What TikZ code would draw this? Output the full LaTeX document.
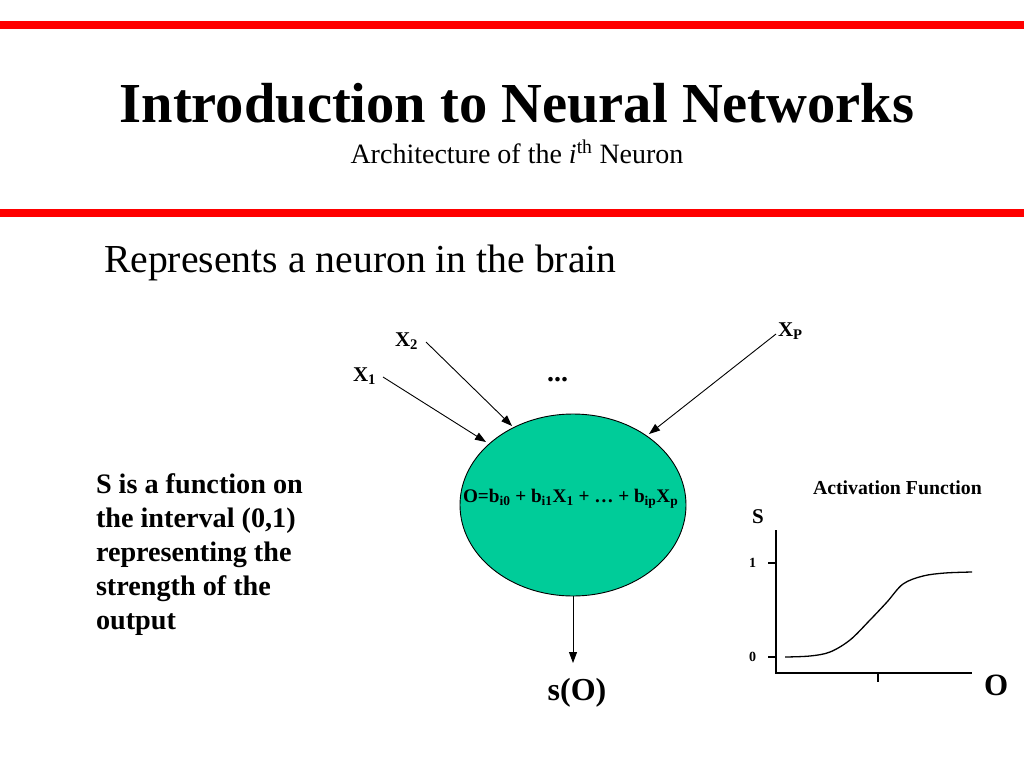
\documentclass[tikz,border=0pt]{standalone}
\usepackage{fontspec}
\setmainfont{Liberation Serif}
\usetikzlibrary{shapes.geometric,arrows.meta}
\definecolor{neurongreen}{RGB}{0,204,153}
\definecolor{barred}{RGB}{255,0,0}
\newcommand{\fs}[1]{\fontsize{#1}{#1}\selectfont}
\tikzset{
  txt/.style={inner sep=0pt, outer sep=0pt, anchor=base west},
  ctxt/.style={inner sep=0pt, outer sep=0pt, anchor=base},
  arr/.style={-{Triangle[length=11pt,width=8pt]}, line width=0.9pt},
  axis/.style={line width=1.3pt},
  bar/.style={fill=barred, draw=none}
}
\begin{document}
\begin{tikzpicture}[x=1pt,y=-1pt]
\fill[white] (0,0) rectangle (1024,768);
\useasboundingbox (0,0) rectangle (1024,768);
% red bars
\fill[bar] (0,21) rectangle (1024,29);
\fill[bar] (0,209) rectangle (1024,217);
% titles
\node[ctxt] (title) at (517,122) {\fs{56.5}\bfseries Introduction to Neural Networks};
\node[ctxt] (subtitle) at (517,163) {\fs{28}Architecture of the \textit{i}\textsuperscript{th} Neuron};
\node[txt] (represents) at (104,272) {\fs{39.7}Represents a neuron in the brain};
% left explanation
\node[txt] (l1) at (96,493) {\fs{28.2}\bfseries S is a function on};
\node[txt] (l2) at (96,527) {\fs{28.2}\bfseries the interval (0,1)};
\node[txt] (l3) at (96,561) {\fs{28.2}\bfseries representing the};
\node[txt] (l4) at (96,595) {\fs{28.2}\bfseries strength of the};
\node[txt] (l5) at (96,629) {\fs{28.2}\bfseries output};
% neuron
\node[ellipse, draw, line width=0.9pt, fill=neurongreen, minimum width=226pt, minimum height=182pt, inner sep=0pt] (neuron) at (573,505) {};
\node[txt] (eq) at (463,502) {\fs{19.2}\bfseries O=b\textsubscript{i0} + b\textsubscript{i1}X\textsubscript{1} + \ldots{} + b\textsubscript{ip}X\textsubscript{p}};
% inputs
\node[txt] (x1) at (353,381) {\fs{21}\bfseries X\textsubscript{1}};
\node[txt] (x2) at (395,346) {\fs{21}\bfseries X\textsubscript{2}};
\node[txt] (xp) at (778,336) {\fs{21}\bfseries X\textsubscript{P}};
\node[txt] (dots) at (547,381) {\fs{28}\bfseries ...};
\coordinate (x1s) at (383,377);
\coordinate (x2s) at (426,342);
\coordinate (xps) at (776,334);
\coordinate (x1e) at (486,442);
\coordinate (x2e) at (512,426);
\coordinate (xpe) at (649,434);
\draw[arr] (x1s) -- (x1e);
\draw[arr] (x2s) -- (x2e);
\draw[arr] (xps) -- (xpe);
% output
\coordinate (oute) at (573,663);
\draw[arr] (neuron.south) -- (oute);
\node[ctxt] (so) at (577,700) {\fs{32}\bfseries s(O)};
% activation function plot
\node[txt] (actlabel) at (813,494) {\fs{19.8}\bfseries Activation Function};
\node[txt] (slabel) at (752,523) {\fs{21}\bfseries S};
\node[txt] (one) at (749,567) {\fs{14}\bfseries 1};
\node[txt] (zero) at (749,661) {\fs{14}\bfseries 0};
\node[txt] (olabel) at (984,695) {\fs{31}\bfseries O};
\coordinate (ytop) at (776,530);
\coordinate (orig) at (776,673);
\coordinate (xend) at (972,673);
\draw[axis] (ytop) -- (orig) -- (xend);
\draw[axis] (768,563) -- (776,563);
\draw[axis] (768,657) -- (776,657);
\draw[axis] (878,673) -- (878,682);
\draw[line width=1.3pt] plot[smooth, tension=0.55] coordinates {(785,657) (810,656) (830,652) (850,640) (870,620) (887,602) (903,584) (923,576) (945,573) (972,572)};
\end{tikzpicture}
\end{document}
